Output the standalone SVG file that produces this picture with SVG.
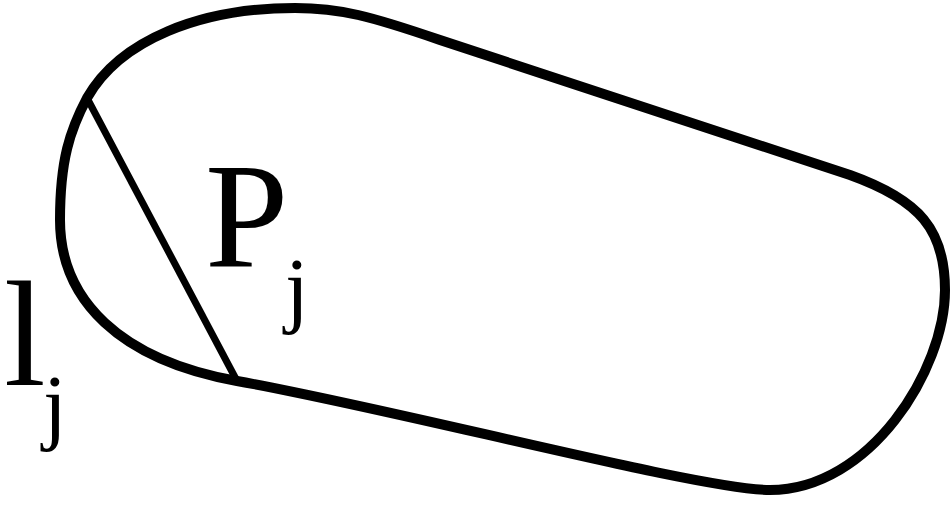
<svg xmlns="http://www.w3.org/2000/svg" width="952" height="520" viewBox="0 0 952 520">
<style>
.o{fill:none;stroke:#000;stroke-width:10;stroke-linejoin:round}
.c{fill:none;stroke:#000;stroke-width:7}
.t{font-family:"Liberation Serif","Times New Roman",serif;fill:#000}
</style>
<rect width="952" height="520" fill="#fff"/>
<g id="region">
<path class="o" d="M 87,98 C 120,40 200,8 295,8 C 340,8 370,16 440,40 L 850,175 C 920,200 945,230 945,290 C 945,370 870,490 770,490 C 700,490 400,410 237,381 C 120,360 60,300 60,220 C 60,160 70,130 87,98 Z"/>
</g>
<g id="connectors">
<line class="c" x1="87" y1="98" x2="237" y2="381"/>
</g>
<g id="labels">
<text class="t" x="205" y="267" font-size="150">P</text>
<text class="t" x="285" y="317" font-size="85">j</text>
<text class="t" x="4" y="385" font-size="150">l</text>
<text class="t" x="43" y="434" font-size="85">j</text>
</g>
</svg>
